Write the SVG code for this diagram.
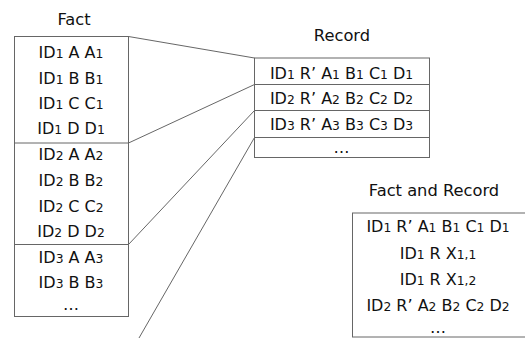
<svg xmlns="http://www.w3.org/2000/svg" width="525" height="338" viewBox="0 0 525 338">
<style>
text{font-family:"DejaVu Sans","Verdana",sans-serif;font-size:16px;fill:#111;text-anchor:middle}
.t{font-size:16.3px}
.s{font-size:12.3px}
.box{fill:#fff;stroke:#666;stroke-width:1}
.div{stroke:#666;stroke-width:1}
.con{stroke:#555;stroke-width:0.9;fill:none}
</style>
<rect width="525" height="338" fill="#fff"/>
<g id="connectors">
<line class="con" x1="128.5" y1="36.5" x2="254.5" y2="58"/>
<line class="con" x1="128.5" y1="143" x2="254.5" y2="84.5"/>
<line class="con" x1="128.5" y1="244.5" x2="254.5" y2="110.5"/>
<line class="con" x1="254.5" y1="137.5" x2="139" y2="338"/>
</g>
<g id="fact">
<text class="t" x="74" y="25">Fact</text>
<rect class="box" x="14.5" y="36.5" width="114" height="280"/>
<line class="div" x1="14.5" y1="143" x2="128.5" y2="143"/>
<line class="div" x1="14.5" y1="244.5" x2="128.5" y2="244.5"/>
<text x="71" y="57.5">ID<tspan class="s">1</tspan> A A<tspan class="s">1</tspan></text>
<text x="71" y="83.5">ID<tspan class="s">1</tspan> B B<tspan class="s">1</tspan></text>
<text x="71" y="108.8">ID<tspan class="s">1</tspan> C C<tspan class="s">1</tspan></text>
<text x="71" y="134">ID<tspan class="s">1</tspan> D D<tspan class="s">1</tspan></text>
<text x="71" y="160">ID<tspan class="s">2</tspan> A A<tspan class="s">2</tspan></text>
<text x="71" y="185.8">ID<tspan class="s">2</tspan> B B<tspan class="s">2</tspan></text>
<text x="71" y="211.6">ID<tspan class="s">2</tspan> C C<tspan class="s">2</tspan></text>
<text x="71" y="236.7">ID<tspan class="s">2</tspan> D D<tspan class="s">2</tspan></text>
<text x="71" y="262.8">ID<tspan class="s">3</tspan> A A<tspan class="s">3</tspan></text>
<text x="71" y="288">ID<tspan class="s">3</tspan> B B<tspan class="s">3</tspan></text>
<text x="71" y="310">…</text>
</g>
<g id="record">
<text class="t" x="342" y="41">Record</text>
<rect class="box" x="254.5" y="58" width="175" height="99.5"/>
<line class="div" x1="254.5" y1="84.5" x2="429.5" y2="84.5"/>
<line class="div" x1="254.5" y1="110.5" x2="429.5" y2="110.5"/>
<line class="div" x1="254.5" y1="137.5" x2="429.5" y2="137.5"/>
<text x="341.5" y="78.7">ID<tspan class="s">1</tspan> R’ A<tspan class="s">1</tspan> B<tspan class="s">1</tspan> C<tspan class="s">1</tspan> D<tspan class="s">1</tspan></text>
<text x="341.5" y="104.4">ID<tspan class="s">2</tspan> R’ A<tspan class="s">2</tspan> B<tspan class="s">2</tspan> C<tspan class="s">2</tspan> D<tspan class="s">2</tspan></text>
<text x="341.5" y="130">ID<tspan class="s">3</tspan> R’ A<tspan class="s">3</tspan> B<tspan class="s">3</tspan> C<tspan class="s">3</tspan> D<tspan class="s">3</tspan></text>
<text x="341.5" y="152.5">…</text>
</g>
<g id="fact-and-record">
<text class="t" x="434" y="196">Fact and Record</text>
<rect class="box" x="352.5" y="213" width="190" height="124"/>
<text x="438" y="232.3">ID<tspan class="s">1</tspan> R’ A<tspan class="s">1</tspan> B<tspan class="s">1</tspan> C<tspan class="s">1</tspan> D<tspan class="s">1</tspan></text>
<text x="438" y="258.5">ID<tspan class="s">1</tspan> R X<tspan class="s">1,1</tspan></text>
<text x="438" y="285">ID<tspan class="s">1</tspan> R X<tspan class="s">1,2</tspan></text>
<text x="438" y="310.7">ID<tspan class="s">2</tspan> R’ A<tspan class="s">2</tspan> B<tspan class="s">2</tspan> C<tspan class="s">2</tspan> D<tspan class="s">2</tspan></text>
<text x="438" y="333">…</text>
</g>
</svg>
